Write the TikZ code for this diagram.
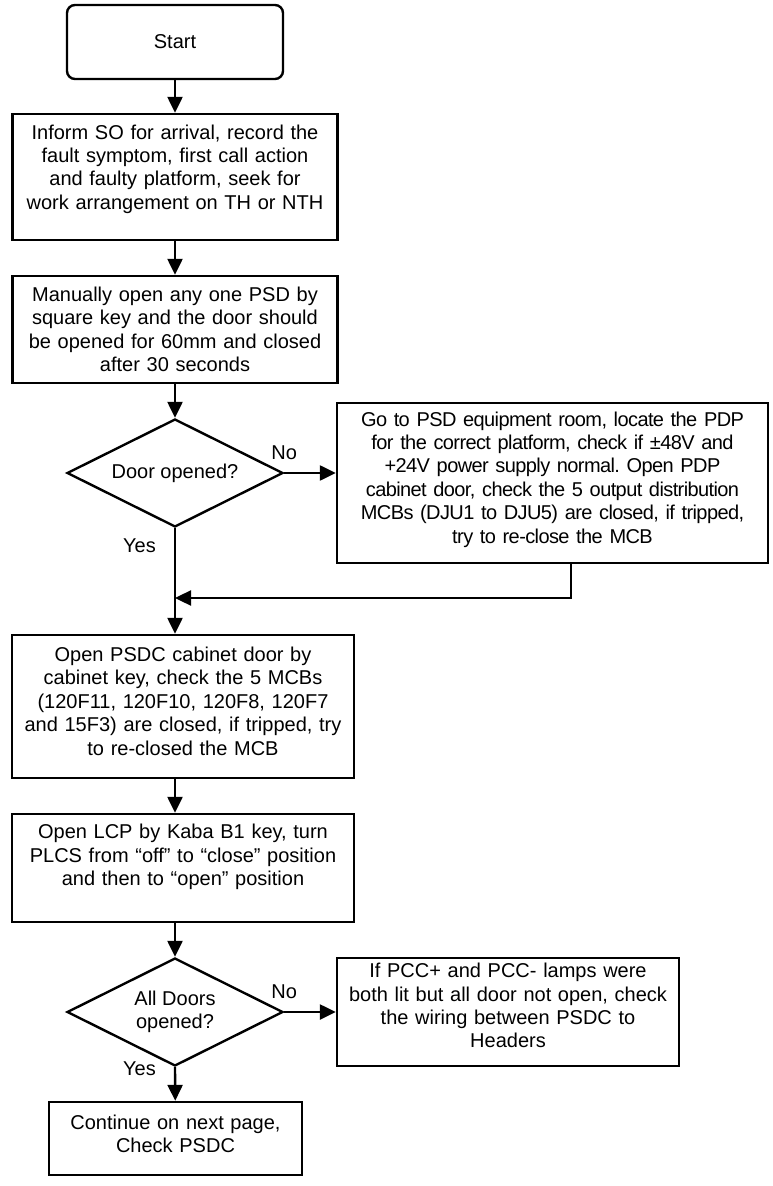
\documentclass[tikz,border=0pt]{standalone}
\usepackage{fontspec}
\setmainfont{Liberation Sans}
\usetikzlibrary{arrows.meta,positioning,shapes.geometric,calc}
\newcommand{\bpad}[1]{\rule[-#1]{0pt}{#1}}
\tikzset{
  term/.style={rectangle, rounded corners=4pt, draw=black, line width=1.2pt, minimum width=108pt, minimum height=37pt},
  box/.style={rectangle, draw=black, line width=1.2pt, align=center, inner sep=0pt},
  dec/.style={diamond, aspect=2, draw=black, line width=1.2pt, align=center, minimum width=108pt, minimum height=54pt, inner sep=0pt},
  flow/.style={-{Triangle[length=8pt, width=7.5pt]}, line width=1.2pt},
  lbl/.style={inner sep=2pt},
}

\begin{document}
\begin{tikzpicture}[x=0.5pt, y=-0.5pt, font=\fontsize{10}{11.7}\selectfont]
  \useasboundingbox (0,0) rectangle (772,1186);
  % main column
  \node[term] (start) at (175,42) {Start};
  \node[box, minimum width=162.5pt, minimum height=63pt, text width=158pt] (inform) at (175,177)
    {Inform SO for arrival, record the\\ fault symptom, first call action\\ and faulty platform, seek for\\ work arrangement on TH or NTH\bpad{10pt}};
  \node[box, minimum width=162.5pt, minimum height=53.5pt, text width=158pt] (manual) at (175,329.5)
    {Manually open any one PSD by\\ square key and the door should\\ be opened for 60mm and closed\\ after 30 seconds};
  \node[dec] (door) at (175,473) {Door opened?};
  \node[box, minimum width=215.5pt, minimum height=80pt, text width=211pt] (pdp) at (552.5,483)
    {\addfontfeatures{LetterSpace=-3}Go to PSD equipment room, locate the PDP\\ for the correct platform, check if ±48V and\\ +24V power supply normal.\ Open PDP\\ cabinet door, check the 5 output distribution\\ MCBs (DJU1 to DJU5) are closed, if tripped,\\ try to re-close the MCB\bpad{5.6pt}};
  \node[box, minimum width=171pt, minimum height=71.5pt, text width=167pt] (psdc) at (183,706.5)
    {Open PSDC cabinet door by\\ cabinet key, check the 5 MCBs\\ (120F11, 120F10, 120F8, 120F7\\ and 15F3) are closed, if tripped, try\\ to re-closed the MCB\bpad{5.5pt}};
  \node[box, minimum width=171pt, minimum height=54pt, text width=167pt] (lcp) at (183,868)
    {Open LCP by Kaba B1 key, turn\\ PLCS from “off” to “close” position\\ and then to “open” position\bpad{13pt}};
  \node[dec] (alldoor) at (175,1012) {All Doors\\ opened?};
  \node[box, minimum width=171pt, minimum height=54pt, text width=167pt] (pcc) at (508,1012)
    {If PCC+ and PCC- lamps were\\ both lit but all door not open, check\\ the wiring between PSDC to\\ Headers\bpad{6.5pt}};
  \node[box, minimum width=126.5pt, minimum height=36.5pt, text width=122pt] (cont) at (175.5,1138.5)
    {Continue on next page,\\ Check PSDC\bpad{5pt}};
  \coordinate (join) at (175,598);

  \draw[flow] (start) -- (inform);
  \draw[flow] (inform) -- (manual);
  \draw[flow] (manual) -- (door);
  \draw[flow] (door.east) -- node[lbl, pos=0, above=4pt] {No} (door.east -| pdp.west);
  \draw[flow] ([xshift=9.25pt]pdp.south) |- (join);
  \draw[flow] (door.south) -- node[lbl, pos=0.17, left=7pt] {Yes} (door.south |- psdc.north);
  \draw[flow] (door.south |- psdc.south) -- (door.south |- lcp.north);
  \draw[flow] (door.south |- lcp.south) -- (alldoor);
  \draw[flow] (alldoor.east) -- node[lbl, pos=0, above=4pt] {No} (pcc);
  \draw[flow] (alldoor.south) -- node[lbl, pos=0.05, left=7pt] {Yes} (cont);
\end{tikzpicture}
\end{document}
